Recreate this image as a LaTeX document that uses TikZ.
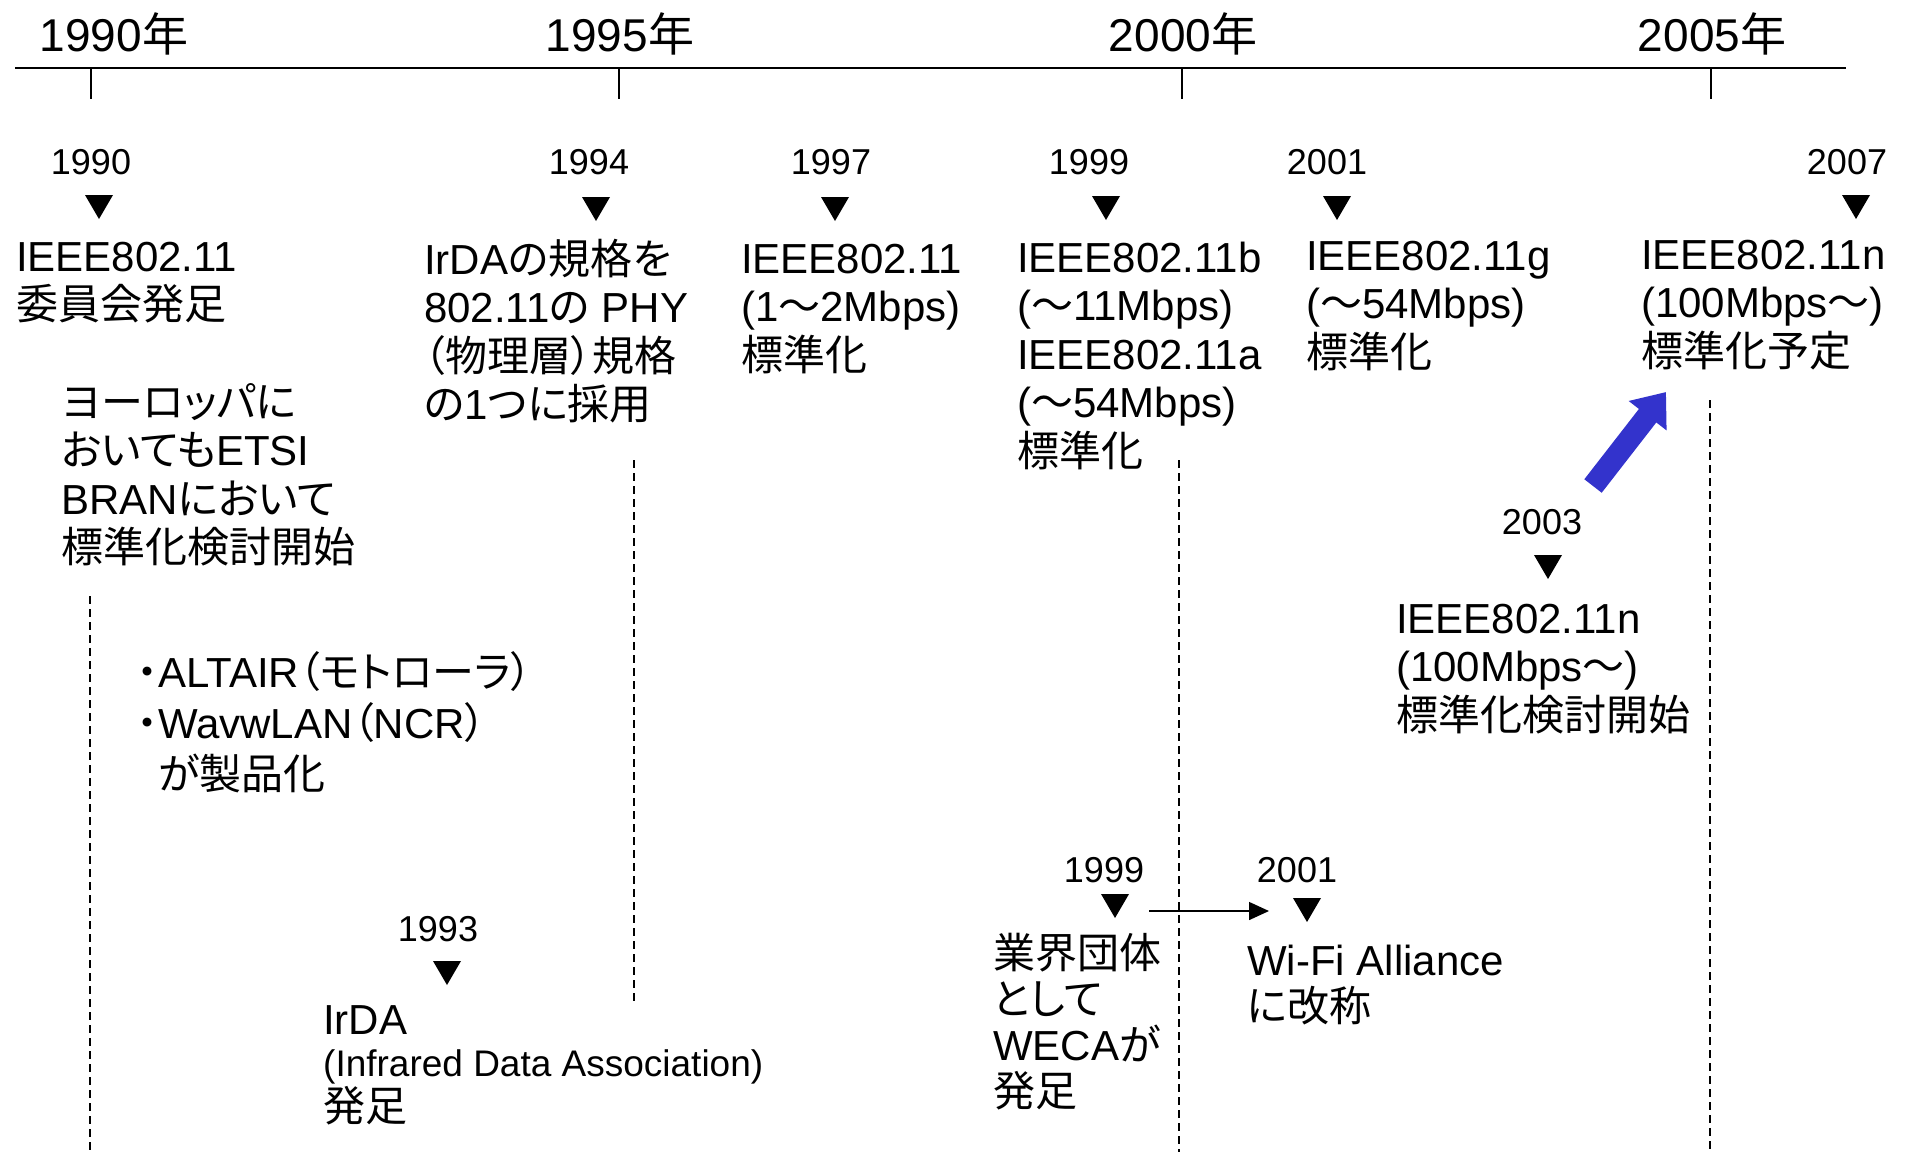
\documentclass[tikz,border=0pt]{standalone}
\usepackage{fontspec}
\setmainfont{Liberation Sans}
\newfontfamily\jpfont[RawFeature=+palt]{Noto Sans CJK JP}
\newcommand\J[1]{{\jpfont #1}}
\usetikzlibrary{arrows.meta}
\definecolor{arrowblue}{RGB}{51,51,204}
\tikzset{
  yearhead/.style={font=\fontsize{46}{50}\selectfont, inner sep=0pt, anchor=base},
  yearlab/.style={font=\fontsize{36}{40}\selectfont, inner sep=0pt, anchor=base},
  evtext/.style={font=\fontsize{42}{48.6}\selectfont, inner sep=0pt, anchor=base west, align=left},
  evtextb/.style={font=\fontsize{42}{46}\selectfont, inner sep=0pt, anchor=base west, align=left},
  evsmall/.style={font=\fontsize{37}{42}\selectfont, inner sep=0pt, anchor=base west, align=left},
  axisline/.style={line width=2pt},
  tickline/.style={line width=1.5pt},
  guide/.style={line width=1.4pt, dash pattern=on 8pt off 5pt},
  tridown/.pic={\fill (-14,-12) -- (14,-12) -- (0,12) -- cycle;}
}
\begin{document}
% multi-line nodes are placed by the baseline of their LAST line
\begin{tikzpicture}[x=1pt,y=-1pt]
\useasboundingbox (0,0) rectangle (1908,1152);

% ---- time axis ----
\coordinate (axL) at (15,68);
\coordinate (axR) at (1846,68);
\draw[axisline] (axL) -- (axR);
\coordinate (tk1) at (91,68);   \coordinate (tk1b) at (91,99);
\coordinate (tk2) at (619,68);  \coordinate (tk2b) at (619,99);
\coordinate (tk3) at (1182,68); \coordinate (tk3b) at (1182,99);
\coordinate (tk4) at (1711,68); \coordinate (tk4b) at (1711,99);
\draw[tickline] (tk1) -- (tk1b);
\draw[tickline] (tk2) -- (tk2b);
\draw[tickline] (tk3) -- (tk3b);
\draw[tickline] (tk4) -- (tk4b);
\node[yearhead] (h1990) at (114,51) {1990\J{年}};
\node[yearhead] (h1995) at (620,51) {1995\J{年}};
\node[yearhead] (h2000) at (1183,51) {2000\J{年}};
\node[yearhead] (h2005) at (1712,51) {2005\J{年}};

% ---- dashed guides ----
\coordinate (g1a) at (90,596);   \coordinate (g1b) at (90,1152);
\coordinate (g2a) at (634,460);  \coordinate (g2b) at (634,1005);
\coordinate (g3a) at (1179,460); \coordinate (g3b) at (1179,1152);
\coordinate (g4a) at (1710,400); \coordinate (g4b) at (1710,1152);
\draw[guide] (g1a) -- (g1b);
\draw[guide] (g2a) -- (g2b);
\draw[guide] (g3a) -- (g3b);
\draw[guide] (g4a) -- (g4b);

% ---- 1990 ----
\node[yearlab] (l1990) at (91,174) {1990};
\pic at (99,207) {tridown};
\node[evtext] (e1990) at (16,319.6) {IEEE802.11\\\J{委員会発足}};
\node[evtext] (eEurope) at (61,562.8) {\J{ヨーロッパに}\\\J{おいても}ETSI\\BRAN\J{において}\\\J{標準化検討開始}};
\node[evtext, font=\fontsize{42}{51}\selectfont] (eAltair) at (137,789)
  {\J{・}ALTAIR\J{（モトローラ）}\\\J{・}WavwLAN\J{（}NCR\J{）}\\\hspace*{21pt}\J{が製品化}};

% ---- 1993 ----
\node[yearlab] (l1993) at (438,941) {1993};
\pic at (447,973) {tridown};
\node[evtext] (eIrda1) at (323,1034) {IrDA};
\node[evsmall] (eIrda2) at (323,1076) {(Infrared Data Association)};
\node[evtext] (eIrda3) at (323,1121) {\J{発足}};

% ---- 1994 ----
\node[yearlab] (l1994) at (589,174) {1994};
\pic at (596,209) {tridown};
\node[evtext] (e1994) at (424,419.8) {IrDA\J{の規格を}\\802.11\J{の} PHY\\\J{（物理層）規格}\\\J{の}1\J{つに採用}};

% ---- 1997 ----
\node[yearlab] (l1997) at (831,174) {1997};
\pic at (835,209) {tridown};
\node[evtext] (e1997) at (741,370.2) {IEEE802.11\\(1\J{～}2Mbps)\\\J{標準化}};

% ---- 1999 ----
\node[yearlab] (l1999) at (1089,174) {1999};
\pic at (1106,208) {tridown};
\node[evtext] (e1999) at (1017,466.4) {IEEE802.11b\\(\J{～}11Mbps)\\IEEE802.11a\\(\J{～}54Mbps)\\\J{標準化}};

% ---- 2001 ----
\node[yearlab] (l2001) at (1327,174) {2001};
\pic at (1337,208) {tridown};
\node[evtext] (e2001) at (1306,367.2) {IEEE802.11g\\(\J{～}54Mbps)\\\J{標準化}};

% ---- 2007 ----
\node[yearlab] (l2007) at (1847,174) {2007};
\pic at (1856,207) {tridown};
\node[evtext] (e2007) at (1641,366.2) {IEEE802.11n\\(100Mbps\J{～})\\\J{標準化予定}};

% ---- 2003 ----
\node[yearlab] (l2003) at (1542,534) {2003};
\pic at (1548,567) {tridown};
\node[evtext] (e2003) at (1396,730.2) {IEEE802.11n\\(100Mbps\J{～})\\\J{標準化検討開始}};

% ---- blue arrow 2003 -> 2007 ----
\coordinate (bluetail) at (1593,486);
\coordinate (bluetip) at (1666,392);
\draw[arrowblue, line width=22pt, -{Triangle[length=30pt,width=46pt]}] (bluetail) -- (bluetip);

% ---- WECA 1999 ----
\node[yearlab] (l1999b) at (1104,882) {1999};
\pic at (1115,906) {tridown};
\node[evtextb] (eWeca) at (993,1106) {\J{業界団体}\\\J{として}\\WECA\J{が}\\\J{発足}};

% ---- Wi-Fi 2001 ----
\node[yearlab] (l2001b) at (1297,882) {2001};
\pic at (1307,910) {tridown};
\node[evtextb] (eWifi) at (1247,1021) {Wi-Fi Alliance\\\J{に改称}};

\coordinate (wa) at (1149,911);
\coordinate (wb) at (1269,911);
\draw[line width=1.5pt, -{Triangle[length=20pt,width=18pt]}] (wa) -- (wb);
\end{tikzpicture}
\end{document}
